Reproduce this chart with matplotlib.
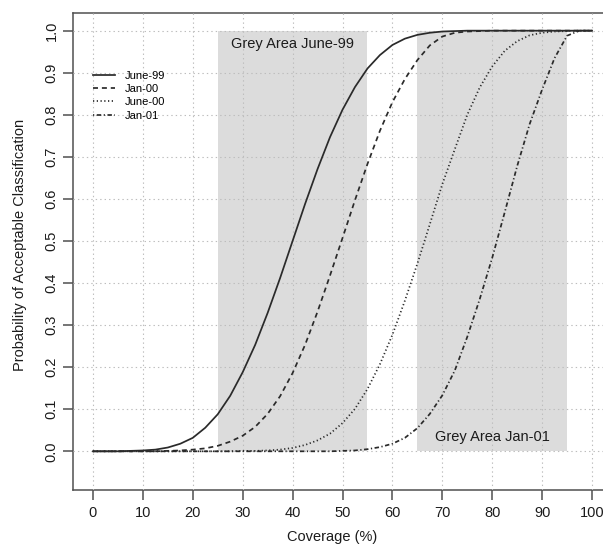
"""
Probability of acceptable classification vs coverage, four survey dates,
with the two grey areas (June-99, Jan-01) shaded. R base-graphics look.
"""
import matplotlib
matplotlib.use('Agg')
import matplotlib.pyplot as plt

plt.rcParams.update({
    'font.family': ['Liberation Sans', 'DejaVu Sans'],
    'lines.scale_dashes': False,
})

coverage = [0, 2.5, 5, 7.5, 10, 12.5, 15, 17.5, 20, 22.5,
            25, 27.5, 30, 32.5, 35, 37.5, 40, 42.5, 45, 47.5,
            50, 52.5, 55, 57.5, 60, 62.5, 65, 67.5, 70, 72.5,
            75, 77.5, 80, 82.5, 85, 87.5, 90, 92.5, 95, 97.5, 100]

june99 = [0.000, 0.000, 0.000, 0.001, 0.002, 0.004, 0.009, 0.018, 0.032, 0.056,
          0.088, 0.132, 0.188, 0.253, 0.329, 0.412, 0.500, 0.588, 0.671, 0.747,
          0.812, 0.866, 0.910, 0.942, 0.966, 0.981, 0.990, 0.995, 0.998, 0.999,
          1.000, 1.000, 1.000, 1.000, 1.000, 1.000, 1.000, 1.000, 1.000, 1.000, 1.000]

jan00 = [0.000, 0.000, 0.000, 0.000, 0.000, 0.000, 0.001, 0.002, 0.004, 0.007,
         0.013, 0.023, 0.037, 0.058, 0.089, 0.131, 0.186, 0.253, 0.332, 0.418,
         0.507, 0.597, 0.683, 0.762, 0.830, 0.885, 0.930, 0.965, 0.986, 0.995,
         0.998, 0.999, 1.000, 1.000, 1.000, 1.000, 1.000, 1.000, 1.000, 1.000, 1.000]

june00 = [0.000, 0.000, 0.000, 0.000, 0.000, 0.000, 0.000, 0.000, 0.000, 0.000,
          0.000, 0.000, 0.001, 0.001, 0.002, 0.004, 0.008, 0.015, 0.026, 0.042,
          0.067, 0.101, 0.148, 0.207, 0.277, 0.358, 0.446, 0.540, 0.635, 0.718,
          0.800, 0.865, 0.915, 0.952, 0.975, 0.989, 0.995, 0.998, 0.999, 1.000, 1.000]

jan01 = [0.000, 0.000, 0.000, 0.000, 0.000, 0.000, 0.000, 0.000, 0.000, 0.000,
         0.000, 0.000, 0.000, 0.000, 0.000, 0.000, 0.000, 0.000, 0.000, 0.000,
         0.001, 0.002, 0.005, 0.010, 0.018, 0.032, 0.055, 0.089, 0.133, 0.192,
         0.272, 0.362, 0.460, 0.568, 0.678, 0.778, 0.860, 0.935, 0.988, 1.000, 1.000]

series_labels = ['June-99', 'Jan-00', 'June-00', 'Jan-01']

# grey areas: (x from, x to, label)
grey_june99 = (25, 55, 'Grey Area June-99')
grey_jan01 = (65, 95, 'Grey Area Jan-01')

x_ticks = [0, 10, 20, 30, 40, 50, 60, 70, 80, 90, 100]
y_ticks = [0.0, 0.1, 0.2, 0.3, 0.4, 0.5, 0.6, 0.7, 0.8, 0.9, 1.0]

_W, _H = 603, 546
_LINE = '#2a2a2a'
_GREY = '#dcdcdc'
_AXIS = '#505050'
_TEXT = '#1c1c1c'
_FS = 10.5

fig = plt.figure(figsize=(_W / 100, _H / 100), dpi=100)
# axes runs off the right edge, as in the (cropped) original
ax = fig.add_axes([73 / _W, 56 / _H, (612 - 73) / _W, (490 - 13) / _H])

for x0, x1, _ in (grey_june99, grey_jan01):
    ax.fill_between([x0, x1], [0, 0], [1, 1], color=_GREY, lw=0, zorder=1)

ax.set_xticks(x_ticks)
ax.set_yticks(y_ticks)
ax.grid(True, color='#bdbdbd', linestyle=(0, (1, 2.2)), lw=0.8, zorder=2)
ax.set_axisbelow(False)

styles = [
    dict(linestyle='-'),
    dict(dashes=(3.6, 2.8)),
    dict(dashes=(0.9, 1.8)),
    dict(dashes=(0.9, 1.8, 3.2, 1.8)),
]
for ys, lab, st in zip([june99, jan00, june00, jan01], series_labels, styles):
    ax.plot(coverage, ys, color=_LINE, lw=1.25, label=lab, zorder=3, **st)

ax.text(sum(grey_june99[:2]) / 2, 0.969, grey_june99[2], ha='center', va='center',
        fontsize=_FS, color=_TEXT, zorder=4)
ax.text(sum(grey_jan01[:2]) / 2, 0.034, grey_jan01[2], ha='center', va='center',
        fontsize=_FS, color=_TEXT, zorder=4)

ax.set_xlim(-4, 104)
ax.set_ylim(-0.092, 1.042)
ax.set_xticklabels([str(v) for v in x_ticks])
ax.set_yticklabels([f'{v:.1f}' for v in y_ticks], rotation=90, va='center')

for side in ('left', 'bottom', 'top'):
    ax.spines[side].set_color(_AXIS)
    ax.spines[side].set_linewidth(1.1)
ax.spines['right'].set_visible(False)
ax.tick_params(direction='out', length=7, width=1.1, color=_AXIS,
               labelsize=_FS, labelcolor=_TEXT)
ax.tick_params(axis='x', pad=4.5)
ax.tick_params(axis='y', pad=3.5)

ax.legend(loc='upper left', bbox_to_anchor=(0, 0.905), bbox_transform=ax.transData,
          frameon=False, fontsize=8, handlelength=2.0, handletextpad=0.9,
          labelspacing=0.3, borderpad=0, borderaxespad=0)

fig.text(332 / _W, 1 - 537 / _H, 'Coverage (%)', ha='center', va='center',
         fontsize=_FS, color=_TEXT)
fig.text(20 / _W, 1 - 245 / _H, 'Probability of Acceptable Classification',
         rotation=90, ha='center', va='center', fontsize=_FS, color=_TEXT)

fig.savefig('out.png', dpi=100)
